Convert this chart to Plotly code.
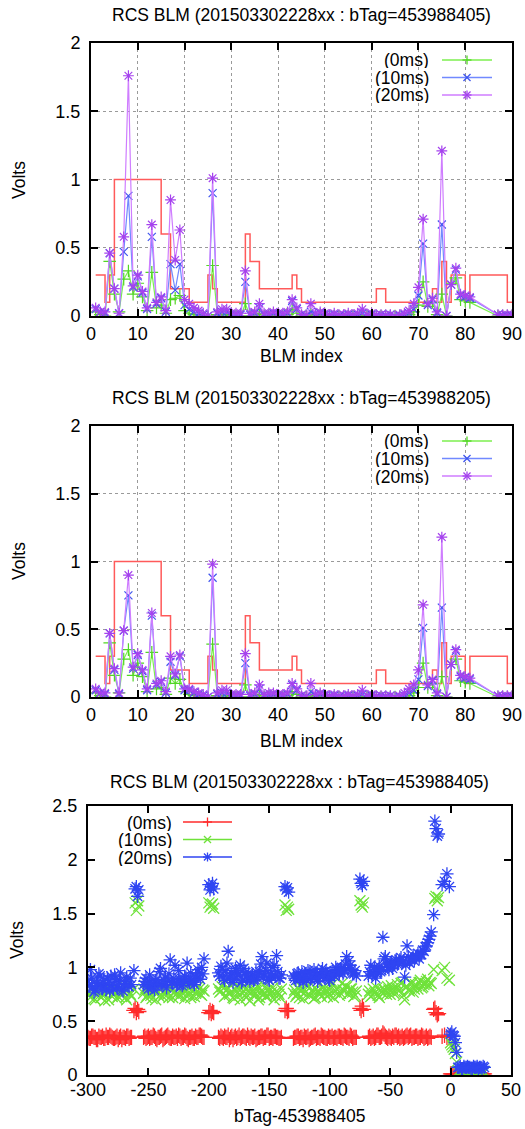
import plotly.graph_objects as go

# ---------------- data: panels 1 & 2 (BLM index) ----------------
blm_index = list(range(1, 82)) + [87, 88, 89, 90]

threshold_index = list(range(1, 91))
threshold = [0.3, 0.3, 0.1, 0.3, 1.0, 1.0, 1.0, 1.0, 1.0, 1.0,
             1.0, 1.0, 1.0, 1.0, 0.6, 0.6, 0.2, 0.2, 0.2, 0.2,
             0.1, 0.1, 0.1, 0.1, 0.3, 0.2, 0.1, 0.1, 0.1, 0.1,
             0.1, 0.1, 0.6, 0.4, 0.4, 0.2, 0.2, 0.2, 0.2, 0.2,
             0.2, 0.2, 0.3, 0.2, 0.1, 0.1, 0.1, 0.1, 0.1, 0.1,
             0.1, 0.1, 0.1, 0.1, 0.1, 0.1, 0.1, 0.1, 0.1, 0.1,
             0.2, 0.2, 0.1, 0.1, 0.1, 0.1, 0.1, 0.1, 0.1, 0.1,
             0.1, 0.1, 0.2, 0.1, 0.4, 0.1, 0.3, 0.3, 0.3, 0.1,
             0.3, 0.3, 0.3, 0.3, 0.3, 0.3, 0.3, 0.3, 0.1, 0.1]

p1_0ms = [0.03, 0.01, 0.00, 0.40, 0.16, 0.03, 0.27, 0.33, 0.16, 0.24,
          0.14, 0.04, 0.32, 0.06, 0.08, 0.02, 0.12, 0.13, 0.15, 0.04,
          0.02, 0.01, 0.01, 0.00, 0.00, 0.37, 0.01, 0.01, 0.01, 0.00,
          0.00, 0.00, 0.09, 0.00, 0.01, 0.02, 0.00, 0.00, 0.01, 0.00,
          0.00, 0.01, 0.05, 0.02, 0.00, 0.00, 0.01, 0.00, 0.01, 0.00,
          0.00, 0.00, 0.00, 0.00, 0.00, 0.00, 0.00, 0.01, 0.00, 0.00,
          0.00, 0.00, 0.00, 0.00, 0.00, 0.00, 0.00, 0.01, 0.03, 0.08,
          0.25, 0.07, 0.10, 0.01, 0.16, 0.00, 0.24, 0.28, 0.12, 0.11, 0.10,
          0.00, 0.00, 0.00, 0.00]
p1_10ms = [0.05, 0.03, 0.02, 0.46, 0.20, 0.02, 0.47, 0.88, 0.21, 0.29,
           0.17, 0.05, 0.58, 0.09, 0.13, 0.03, 0.38, 0.19, 0.38, 0.08,
           0.05, 0.03, 0.02, 0.01, 0.00, 0.90, 0.02, 0.03, 0.03, 0.01,
           0.01, 0.01, 0.25, 0.01, 0.02, 0.06, 0.01, 0.01, 0.02, 0.01,
           0.01, 0.02, 0.11, 0.05, 0.01, 0.00, 0.03, 0.01, 0.02, 0.01,
           0.01, 0.01, 0.00, 0.01, 0.01, 0.00, 0.01, 0.02, 0.01, 0.01,
           0.00, 0.01, 0.00, 0.01, 0.00, 0.00, 0.01, 0.02, 0.05, 0.15,
           0.53, 0.08, 0.12, 0.02, 0.67, 0.00, 0.23, 0.34, 0.15, 0.14, 0.13,
           0.01, 0.00, 0.00, 0.00]
p1_20ms = [0.06, 0.03, 0.03, 0.46, 0.20, 0.02, 0.58, 1.76, 0.22, 0.30,
           0.18, 0.06, 0.67, 0.10, 0.14, 0.04, 0.85, 0.41, 0.63, 0.12,
           0.09, 0.06, 0.04, 0.02, 0.00, 1.01, 0.03, 0.05, 0.05, 0.02,
           0.02, 0.02, 0.33, 0.02, 0.03, 0.09, 0.02, 0.02, 0.03, 0.02,
           0.02, 0.03, 0.12, 0.06, 0.01, 0.01, 0.09, 0.02, 0.03, 0.02,
           0.01, 0.02, 0.01, 0.01, 0.02, 0.01, 0.02, 0.05, 0.01, 0.02,
           0.01, 0.01, 0.01, 0.01, 0.00, 0.01, 0.02, 0.04, 0.09, 0.21,
           0.71, 0.09, 0.13, 0.03, 1.21, 0.00, 0.23, 0.35, 0.16, 0.15, 0.14,
           0.01, 0.01, 0.01, 0.01]

p2_0ms = [0.03, 0.01, 0.00, 0.40, 0.16, 0.03, 0.28, 0.35, 0.16, 0.25,
          0.15, 0.04, 0.33, 0.06, 0.07, 0.02, 0.14, 0.10, 0.13, 0.04,
          0.02, 0.01, 0.01, 0.00, 0.00, 0.39, 0.01, 0.01, 0.01, 0.00,
          0.00, 0.00, 0.09, 0.00, 0.01, 0.02, 0.00, 0.00, 0.01, 0.00,
          0.00, 0.01, 0.04, 0.02, 0.00, 0.00, 0.01, 0.00, 0.01, 0.00,
          0.00, 0.00, 0.00, 0.00, 0.00, 0.00, 0.00, 0.01, 0.00, 0.00,
          0.00, 0.00, 0.00, 0.00, 0.00, 0.00, 0.00, 0.01, 0.03, 0.07,
          0.25, 0.07, 0.10, 0.01, 0.15, 0.00, 0.24, 0.28, 0.12, 0.11, 0.10,
          0.00, 0.00, 0.00, 0.00]
p2_10ms = [0.05, 0.03, 0.02, 0.47, 0.20, 0.02, 0.49, 0.75, 0.21, 0.31,
           0.19, 0.05, 0.60, 0.09, 0.11, 0.03, 0.26, 0.16, 0.30, 0.05,
           0.05, 0.03, 0.02, 0.01, 0.00, 0.88, 0.02, 0.03, 0.03, 0.01,
           0.01, 0.01, 0.25, 0.01, 0.02, 0.06, 0.01, 0.01, 0.02, 0.01,
           0.01, 0.02, 0.09, 0.05, 0.01, 0.00, 0.04, 0.01, 0.02, 0.01,
           0.01, 0.01, 0.00, 0.01, 0.01, 0.00, 0.01, 0.02, 0.01, 0.01,
           0.00, 0.01, 0.00, 0.01, 0.00, 0.00, 0.01, 0.03, 0.05, 0.13,
           0.51, 0.08, 0.12, 0.02, 0.66, 0.00, 0.24, 0.34, 0.15, 0.14, 0.13,
           0.01, 0.00, 0.00, 0.00]
p2_20ms = [0.06, 0.03, 0.03, 0.47, 0.21, 0.03, 0.49, 0.90, 0.22, 0.32,
           0.20, 0.06, 0.62, 0.10, 0.12, 0.04, 0.30, 0.17, 0.31, 0.06,
           0.06, 0.04, 0.03, 0.02, 0.00, 0.98, 0.03, 0.05, 0.05, 0.02,
           0.02, 0.02, 0.32, 0.02, 0.03, 0.09, 0.02, 0.03, 0.03, 0.02,
           0.02, 0.03, 0.10, 0.06, 0.01, 0.01, 0.10, 0.02, 0.03, 0.02,
           0.01, 0.02, 0.01, 0.01, 0.02, 0.01, 0.02, 0.05, 0.01, 0.02,
           0.01, 0.01, 0.01, 0.01, 0.00, 0.01, 0.03, 0.06, 0.09, 0.20,
           0.68, 0.09, 0.13, 0.03, 1.18, 0.00, 0.24, 0.35, 0.16, 0.15, 0.14,
           0.01, 0.01, 0.01, 0.01]

# ---------------- data: panel 3 (bTag offset) ----------------
# even-offset shots and the special (injection) shots
btag_offset = (list(range(-300, -263, 2)) + [-262, -261, -260, -259, -258]
               + list(range(-254, -203, 2)) + [-200, -199, -198, -197, -196]
               + list(range(-192, -139, 2)) + [-137, -136, -135, -134]
               + list(range(-130, -77, 2)) + [-75, -74, -73, -72]
               + list(range(-68, -15, 2)) + [-14, -13, -12, -11, -10]
               + [-7, -5, -3, -1] + [0, 1, 2, 3, 4, 5]
               + list(range(6, 29, 2)))

v3_0ms = ([0.35, 0.34, 0.36, 0.35, 0.33, 0.35, 0.36, 0.34, 0.35, 0.37, 0.35, 0.34, 0.36, 0.35, 0.33, 0.35, 0.36, 0.34, 0.35]
          + [0.60, 0.62, 0.58, 0.61, 0.59]
          + [0.35, 0.34, 0.36, 0.35, 0.37, 0.34, 0.35, 0.36, 0.33, 0.35, 0.37, 0.34, 0.36, 0.35, 0.34, 0.36, 0.35, 0.37, 0.34, 0.35, 0.36, 0.34, 0.35, 0.37, 0.36, 0.35]
          + [0.58, 0.60, 0.57, 0.59, 0.58]
          + [0.35, 0.36, 0.34, 0.35, 0.37, 0.35, 0.33, 0.36, 0.35, 0.34, 0.36, 0.35, 0.37, 0.34, 0.35, 0.36, 0.34, 0.35, 0.36, 0.35, 0.37, 0.34, 0.35, 0.36, 0.35, 0.34, 0.35]
          + [0.60, 0.62, 0.59, 0.60]
          + [0.34, 0.35, 0.36, 0.35, 0.33, 0.35, 0.36, 0.34, 0.35, 0.37, 0.35, 0.34, 0.36, 0.35, 0.34, 0.35, 0.36, 0.35, 0.34, 0.36, 0.35, 0.37, 0.35, 0.34, 0.36, 0.35, 0.35]
          + [0.62, 0.60, 0.64, 0.61]
          + [0.35, 0.34, 0.36, 0.35, 0.37, 0.35, 0.39, 0.36, 0.34, 0.35, 0.36, 0.37, 0.35, 0.34, 0.36, 0.35, 0.37, 0.36, 0.34, 0.35, 0.36, 0.35, 0.37, 0.34, 0.36, 0.35, 0.35]
          + [0.61, 0.62, 0.58, 0.56, 0.57]
          + [0.36, 0.37, 0.35, 0.36]
          + [0.01, 0.01, 0.00, 0.01, 0.00, 0.01]
          + [0.01, 0.01, 0.01, 0.02, 0.01, 0.01, 0.01, 0.02, 0.01, 0.01, 0.01, 0.01])

v3_10ms = ([0.78, 0.72, 0.80, 0.70, 0.75, 0.82, 0.74, 0.69, 0.77, 0.80, 0.73, 0.76, 0.71, 0.79, 0.74, 0.82, 0.70, 0.76, 0.73]
           + [0.80, 1.60, 1.53, 1.62, 1.57]
           + [0.76, 0.72, 0.80, 0.74, 0.78, 0.70, 0.77, 0.82, 0.73, 0.79, 0.75, 0.81, 0.72, 0.78, 0.76, 0.74, 0.80, 0.71, 0.79, 0.75, 0.83, 0.73, 0.77, 0.80, 0.74, 0.78]
           + [1.60, 1.56, 1.58, 1.59, 1.55]
           + [0.80, 0.78, 0.85, 0.74, 0.81, 0.77, 0.72, 0.79, 0.83, 0.70, 0.76, 0.80, 0.74, 0.69, 0.78, 0.75, 0.82, 0.72, 0.79, 0.76, 0.73, 0.81, 0.77, 0.70, 0.78, 0.75, 0.80]
           + [1.58, 1.53, 1.56, 1.54]
           + [0.76, 0.73, 0.80, 0.78, 0.71, 0.77, 0.82, 0.74, 0.79, 0.72, 0.78, 0.75, 0.81, 0.76, 0.73, 0.79, 0.84, 0.77, 0.80, 0.74, 0.85, 0.78, 0.82, 0.76, 0.80, 0.73, 0.78]
           + [1.62, 1.58, 1.56, 1.60]
           + [0.75, 0.73, 0.80, 0.77, 0.74, 0.79, 0.76, 0.78, 0.82, 0.75, 0.80, 0.77, 0.84, 0.79, 0.86, 0.70, 0.82, 0.78, 0.85, 0.80, 0.83, 0.86, 0.81, 0.84, 0.87, 0.83, 0.85]
           + [0.98, 1.64, 1.66, 1.62, 1.65]
           + [0.97, 1.00, 0.90, 0.88]
           + [0.30, 0.28, 0.26, 0.24, 0.20, 0.12]
           + [0.03, 0.03, 0.02, 0.03, 0.03, 0.02, 0.03, 0.03, 0.02, 0.03, 0.03, 0.03])

v3_20ms = ([0.88, 0.98, 0.82, 0.79, 0.86, 0.92, 0.80, 0.84, 0.90, 0.78, 0.83, 0.93, 0.81, 0.87, 0.79, 0.85, 0.91, 0.82, 0.84]
           + [0.97, 1.73, 1.75, 1.66, 1.72]
           + [0.84, 0.90, 0.80, 0.86, 0.82, 0.88, 0.85, 0.99, 0.83, 0.91, 0.87, 1.07, 0.86, 1.02, 0.84, 0.89, 0.83, 0.92, 1.04, 0.86, 0.88, 0.84, 0.90, 0.95, 1.00, 1.08]
           + [1.77, 1.72, 1.75, 1.78, 1.73]
           + [0.95, 1.01, 0.90, 0.97, 1.15, 0.92, 0.86, 0.99, 0.93, 1.02, 0.88, 0.95, 0.90, 0.87, 0.93, 0.89, 0.91, 0.96, 1.10, 0.94, 1.04, 0.88, 0.92, 1.02, 1.11, 0.90, 0.93]
           + [1.75, 1.72, 1.74, 1.70]
           + [0.92, 0.88, 0.95, 0.90, 0.86, 0.93, 0.97, 0.89, 0.91, 0.95, 0.87, 0.93, 0.99, 0.90, 0.94, 0.88, 0.96, 0.92, 0.98, 0.94, 1.00, 0.97, 1.10, 1.06, 0.98, 0.94, 0.92]
           + [1.82, 1.78, 1.76, 1.80]
           + [0.92, 1.02, 0.95, 0.90, 0.98, 0.96, 1.28, 1.10, 1.00, 1.04, 0.99, 1.06, 1.03, 1.07, 1.05, 0.91, 1.20, 1.04, 1.08, 1.06, 1.10, 1.08, 1.12, 1.15, 1.20, 1.26, 1.33]
           + [1.49, 2.36, 2.29, 2.22, 2.24]
           + [1.77, 1.80, 1.87, 1.75]
           + [0.38, 0.40, 0.37, 0.36, 0.30, 0.21]
           + [0.07, 0.08, 0.06, 0.07, 0.08, 0.07, 0.06, 0.07, 0.08, 0.07, 0.06, 0.07])

# odd-offset shots of the regular segments
btag_offset_odd = (list(range(-299, -264, 2)) + list(range(-253, -204, 2))
                   + list(range(-191, -140, 2)) + list(range(-129, -78, 2))
                   + list(range(-67, -16, 2)) + list(range(7, 28, 2)))

v3_0ms_odd = ([0.34, 0.36, 0.35, 0.33, 0.36, 0.35, 0.34, 0.37, 0.35, 0.36, 0.34, 0.35, 0.33, 0.36, 0.35, 0.34, 0.36, 0.35]
              + [0.36, 0.35, 0.34, 0.35, 0.36, 0.33, 0.35, 0.37, 0.34, 0.36, 0.35, 0.34, 0.35, 0.36, 0.37, 0.34, 0.35, 0.36, 0.33, 0.35, 0.34, 0.36, 0.35, 0.37, 0.35]
              + [0.34, 0.35, 0.36, 0.35, 0.33, 0.36, 0.35, 0.34, 0.37, 0.35, 0.36, 0.34, 0.35, 0.36, 0.35, 0.33, 0.35, 0.36, 0.34, 0.35, 0.37, 0.35, 0.34, 0.36, 0.35, 0.34]
              + [0.35, 0.36, 0.34, 0.35, 0.36, 0.35, 0.33, 0.35, 0.36, 0.34, 0.35, 0.37, 0.35, 0.34, 0.36, 0.35, 0.34, 0.35, 0.36, 0.35, 0.34, 0.36, 0.35, 0.37, 0.34, 0.35]
              + [0.36, 0.35, 0.34, 0.37, 0.35, 0.36, 0.38, 0.35, 0.36, 0.34, 0.35, 0.37, 0.36, 0.35, 0.34, 0.36, 0.35, 0.37, 0.35, 0.36, 0.34, 0.35, 0.36, 0.35, 0.34, 0.36]
              + [0.01, 0.02, 0.01, 0.01, 0.01, 0.02, 0.01, 0.01, 0.01, 0.02, 0.01])

v3_10ms_odd = ([0.74, 0.79, 0.71, 0.77, 0.83, 0.72, 0.76, 0.80, 0.70, 0.78, 0.75, 0.81, 0.73, 0.77, 0.84, 0.72, 0.79, 0.75]
               + [0.79, 0.74, 0.77, 0.71, 0.81, 0.76, 0.73, 0.84, 0.75, 0.78, 0.72, 0.80, 0.76, 0.83, 0.73, 0.77, 0.79, 0.74, 0.81, 0.72, 0.78, 0.76, 0.82, 0.75, 0.79]
               + [0.77, 0.82, 0.73, 0.79, 0.75, 0.86, 0.71, 0.78, 0.74, 0.80, 0.83, 0.72, 0.77, 0.81, 0.74, 0.79, 0.70, 0.76, 0.84, 0.73, 0.78, 0.75, 0.81, 0.74, 0.77, 0.72]
               + [0.79, 0.75, 0.72, 0.81, 0.76, 0.83, 0.74, 0.78, 0.71, 0.80, 0.77, 0.73, 0.82, 0.79, 0.75, 0.86, 0.72, 0.78, 0.81, 0.76, 0.79, 0.83, 0.75, 0.80, 0.77, 0.74]
               + [0.78, 0.74, 0.76, 0.81, 0.72, 0.77, 0.80, 0.75, 0.79, 0.83, 0.76, 0.81, 0.78, 0.85, 0.74, 0.82, 0.79, 0.86, 0.77, 0.84, 0.80, 0.88, 0.82, 0.85, 0.89, 0.86]
               + [0.03, 0.03, 0.02, 0.03, 0.03, 0.03, 0.02, 0.03, 0.03, 0.02, 0.03])

v3_20ms_odd = ([0.83, 0.90, 0.77, 0.85, 0.94, 0.81, 0.88, 0.79, 0.86, 0.92, 0.80, 0.89, 0.84, 0.95, 0.78, 0.87, 0.83, 0.90]
               + [0.87, 0.82, 0.93, 0.85, 0.79, 0.89, 0.96, 0.84, 0.88, 0.81, 0.94, 0.86, 0.90, 0.83, 0.97, 0.87, 0.85, 0.91, 0.88, 0.95, 0.86, 0.92, 0.98, 0.89, 0.94]
               + [0.92, 0.98, 0.88, 1.04, 0.91, 0.95, 0.89, 0.97, 0.93, 0.86, 0.99, 0.92, 0.95, 0.90, 0.88, 0.96, 0.93, 1.03, 0.91, 0.97, 0.89, 0.94, 1.00, 0.92, 0.96, 0.90]
               + [0.90, 0.94, 0.89, 0.96, 0.92, 0.88, 0.95, 0.91, 0.98, 0.93, 0.90, 0.96, 0.92, 0.97, 0.89, 0.95, 0.93, 1.00, 0.96, 0.99, 0.94, 1.03, 0.98, 1.02, 0.95, 0.97]
               + [0.96, 0.93, 1.00, 0.94, 1.01, 0.97, 1.08, 1.03, 0.98, 1.05, 1.02, 1.07, 1.04, 1.09, 1.06, 1.02, 1.10, 1.07, 1.11, 1.09, 1.13, 1.12, 1.16, 1.19, 1.23, 1.29]
               + [0.07, 0.06, 0.08, 0.07, 0.07, 0.06, 0.08, 0.07, 0.06, 0.07, 0.08])

titles = ["RCS BLM (201503302228xx : bTag=453988405)",
          "RCS BLM (201503302228xx : bTag=453988205)",
          "RCS BLM (201503302228xx : bTag=453988405)"]
series_names = ["(0ms)", "(10ms)", "(20ms)"]
x3_ticks = [-300, -250, -200, -150, -100, -50, 0, 50]

# ---------------- styling ----------------
FONT = "Liberation Sans, Arial, sans-serif"
FS_TICK = 18
FS_TEXT = 17.5
W, H = 525, 1129
C_GREEN_L, C_GREEN_M = "#7def4f", "#52d624"
C_BLUE_L, C_BLUE_M = "#7189ff", "#3f55ee"
C_MAG_L, C_MAG_M = "#cf7dff", "#a542ee"
C_RED_STEP = "#ff5a5a"


def px_x(p):
    return p / W


def px_y(p):
    return 1 - p / H


fig = go.Figure()

panel_data = [("x", "y", [p1_0ms, p1_10ms, p1_20ms]),
              ("x2", "y2", [p2_0ms, p2_10ms, p2_20ms])]
styles = [("cross-thin", C_GREEN_L, C_GREEN_M, 9),
          ("x-thin", C_BLUE_L, C_BLUE_M, 8),
          ("asterisk", C_MAG_L, C_MAG_M, 9)]

for xa, ya, series in panel_data:
    fig.add_trace(go.Scatter(x=threshold_index, y=threshold, mode="lines",
                             line=dict(color=C_RED_STEP, width=1.5, shape="hv"),
                             xaxis=xa, yaxis=ya, showlegend=False))
    for name, vals, (sym, cl, cm, sz) in zip(series_names, series, styles):
        fig.add_trace(go.Scatter(x=blm_index, y=vals, mode="lines+markers", name=name,
                                 line=dict(color=cl, width=1.2),
                                 marker=dict(symbol=sym, size=sz, color=cm,
                                             line=dict(color=cm, width=1.2)),
                                 xaxis=xa, yaxis=ya, showlegend=False))

styles3 = [("cross-thin", "#ff2b2b", 11), ("x-thin", "#6fe23a", 11), ("asterisk", "#2f45f2", 11)]
x3_all = btag_offset + btag_offset_odd
for name, vals, vals_odd, (sym, c, sz) in zip(series_names, [v3_0ms, v3_10ms, v3_20ms],
                                              [v3_0ms_odd, v3_10ms_odd, v3_20ms_odd], styles3):
    fig.add_trace(go.Scatter(x=x3_all, y=vals + vals_odd, mode="markers", name=name,
                             marker=dict(symbol=sym, size=sz, color=c, line=dict(color=c, width=1.3)),
                             xaxis="x3", yaxis="y3", showlegend=False))

# ---------------- gnuplot-style keys (text right, sample line + point on the right) ----------------
shapes = []
annotations = []


def add_key(text_right, line_l, line_r, yc, label, line_color, mark_color, kind, half=4.5):
    annotations.append(dict(text=label, x=px_x(text_right), y=px_y(yc), xref="paper", yref="paper",
                            showarrow=False, xanchor="right", yanchor="middle", height=17,
                            borderpad=0, valign="middle",
                            font=dict(family=FONT, size=FS_TEXT, color="black")))
    shapes.append(dict(type="line", xref="paper", yref="paper",
                       x0=px_x(line_l), x1=px_x(line_r), y0=px_y(yc), y1=px_y(yc),
                       line=dict(color=line_color, width=1.5)))
    cx = (line_l + line_r) / 2
    segs = []
    if kind in ("plus", "star"):
        segs += [(cx - half, yc, cx + half, yc), (cx, yc - half, cx, yc + half)]
    if kind in ("cross", "star"):
        d = half * 0.78
        segs += [(cx - d, yc - d, cx + d, yc + d), (cx - d, yc + d, cx + d, yc - d)]
    for x0, y0, x1, y1 in segs:
        shapes.append(dict(type="line", xref="paper", yref="paper",
                           x0=px_x(x0), x1=px_x(x1), y0=px_y(y0), y1=px_y(y1),
                           line=dict(color=mark_color, width=1.3)))


kinds = ["plus", "cross", "star"]
key12 = [(C_GREEN_L, C_GREEN_M), (C_BLUE_L, C_BLUE_M), (C_MAG_L, C_MAG_M)]
for rows in ([60, 77.5, 95], [441, 458.5, 476]):
    for yc, name, (cl, cm), kind in zip(rows, series_names, key12, kinds):
        add_key(430, 442, 492, yc, name, cl, cm, kind)
key3 = ["#ff2b2b", "#6fe23a", "#2f45f2"]
for yc, name, c, kind in zip([822, 839.5, 857], series_names, key3, kinds):
    add_key(173, 183, 232, yc, name, c, c, kind)

axis_common = dict(showline=True, linecolor="black", linewidth=2, mirror="allticks",
                   ticks="inside", ticklen=7, tickwidth=1.5, tickcolor="black", automargin=False,
                   tickfont=dict(family=FONT, size=FS_TICK, color="black"), zeroline=False)
grid = dict(showgrid=True, gridcolor="#9a9a9a", griddash="dot", gridwidth=1)

layout = dict(width=W, height=H, margin=dict(l=0, r=0, t=0, b=0, autoexpand=False),
              paper_bgcolor="white", plot_bgcolor="white", showlegend=False,
              font=dict(family=FONT, size=FS_TEXT, color="black"))
for k, (top, bot) in enumerate([(43, 316), (426, 697)]):
    sfx = "" if k == 0 else "2"
    layout["xaxis" + sfx] = dict(domain=[px_x(91), px_x(512)], range=[0, 90], dtick=10, tick0=0,
                                 anchor="y" + sfx, **axis_common, **grid)
    layout["yaxis" + sfx] = dict(domain=[px_y(bot), px_y(top)], range=[0, 2], dtick=0.5, tick0=0,
                                 anchor="x" + sfx, ticklabelstandoff=5, **axis_common, **grid)
layout["xaxis3"] = dict(domain=[px_x(88), px_x(511)], range=[-300, 50], tickvals=x3_ticks,
                        ticktext=[str(v) for v in x3_ticks], anchor="y3", showgrid=False,
                        ticklabelstandoff=-3, **axis_common)
layout["yaxis3"] = dict(domain=[px_y(1075), px_y(806)], range=[0, 2.5], dtick=0.5, tick0=0,
                        anchor="x3", showgrid=False, ticklabelstandoff=5, **axis_common)

for t, yc, xc in [(titles[0], 15, 301.5), (titles[1], 398, 301.5), (titles[2], 782, 299.5)]:
    annotations.append(dict(text=t, x=px_x(xc), y=px_y(yc), xref="paper", yref="paper",
                            showarrow=False, xanchor="center", yanchor="middle",
                            font=dict(family=FONT, size=FS_TEXT)))
for t, yc, xc in [("BLM index", 356, 301.5), ("BLM index", 741, 301.5), ("bTag-453988405", 1116, 299.5)]:
    annotations.append(dict(text=t, x=px_x(xc), y=px_y(yc), xref="paper", yref="paper",
                            showarrow=False, xanchor="center", yanchor="middle",
                            font=dict(family=FONT, size=FS_TEXT)))
for yc, xc in [(180, 19), (561, 19), (940, 17)]:
    annotations.append(dict(text="Volts", x=px_x(xc), y=px_y(yc), xref="paper", yref="paper",
                            showarrow=False, xanchor="center", yanchor="middle", textangle=-90,
                            font=dict(family=FONT, size=FS_TEXT)))
layout["annotations"] = annotations
layout["shapes"] = shapes

fig.update_layout(**layout)
fig.write_html("out.html", config={"displayModeBar": False},
               post_script="document.body.style.margin='0px';"
                           "document.body.style.overflow='hidden';"
                           "document.documentElement.style.overflow='hidden';")
